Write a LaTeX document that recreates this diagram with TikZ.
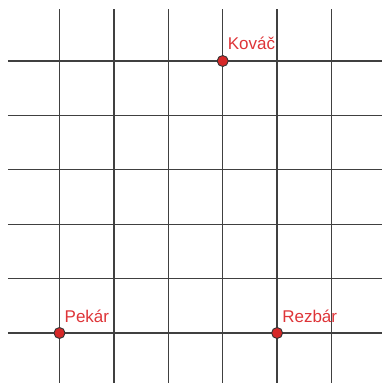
\documentclass[tikz,border=0pt]{standalone}
\usepackage{fontspec}
\setmainfont{Liberation Sans}
\usetikzlibrary{positioning, calc}
\definecolor{dotred}{RGB}{214,40,40}
\definecolor{lblred}{RGB}{222,52,56}
\tikzset{
    gridline/.style={draw=black!75, line width=1.3pt},
    dot/.style={circle, fill=dotred, draw=black!80, line width=0.9pt, inner sep=0pt, minimum size=11pt},
    lbl/.style={text=lblred, font=\fontsize{17}{20}\selectfont, anchor=base west, inner sep=0pt}
}

\begin{document}
\begin{tikzpicture}[x=54.4pt, y=54.4pt]
    \useasboundingbox (-59.5pt,-50pt) rectangle (322.5pt,333pt);
    \foreach \k in {0,...,5} {
        \draw[gridline] (-51.5pt,\k) -- (322.5pt,\k);
        \draw[gridline] (\k,-50pt) -- (\k,324pt);
    }
    \node[dot] (pekar) at (0,0) {};
    \node[dot] (rezbar) at (4,0) {};
    \node[dot] (kovac) at (3,5) {};
    \node[lbl] (pekarlbl) at ($(pekar)+(5pt,10pt)$) {Pekár};
    \node[lbl] (rezbarlbl) at ($(rezbar)+(5pt,10pt)$) {Rezbár};
    \node[lbl] (kovaclbl) at ($(kovac)+(5pt,11pt)$) {Kováč};
\end{tikzpicture}
\end{document}
